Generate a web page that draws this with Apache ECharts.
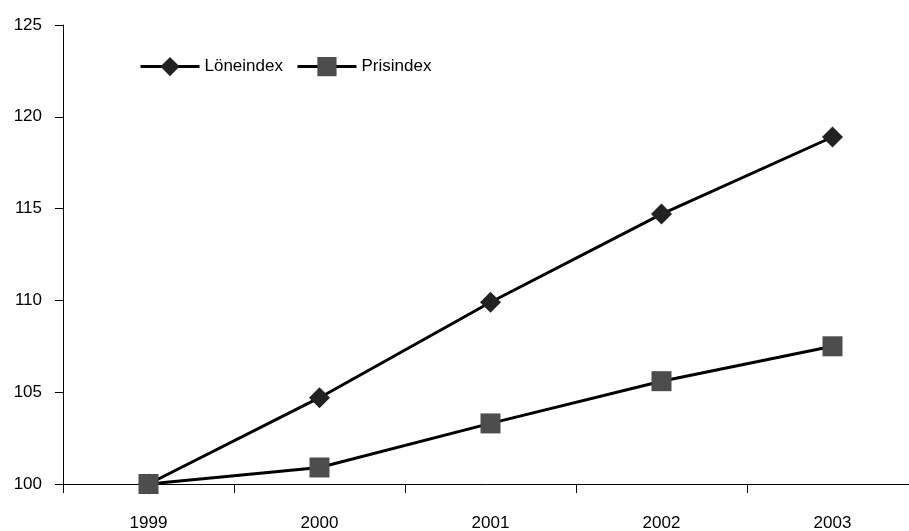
<!DOCTYPE html>
<html><head><meta charset="utf-8">
<script src="https://cdn.jsdelivr.net/npm/echarts@6/dist/echarts.min.js"></script>
<style>html,body{margin:0;padding:0;background:#fff}#c{width:909px;height:531px}</style>
</head><body><div id="c"></div>
<script>
const categories = ['1999','2000','2001','2002','2003'];
const loneindex = [100, 104.7, 109.9, 114.7, 118.9];
const prisindex = [100, 100.9, 103.3, 105.6, 107.5];
const chart = echarts.init(document.getElementById('c'));
const font = 'Liberation Sans, Arial, sans-serif';
chart.setOption({
  animation: false,
  backgroundColor: '#fff',
  grid: {left: 63, width: 855, top: 25, bottom: 47, containLabel: false, outerBoundsMode: 'none'},
  legend: {
    left: 134, top: 52, itemWidth: 59, itemHeight: 24, itemGap: 13,
    lineStyle: {width: 3, color: '#000'},
    textStyle: {fontFamily: font, fontSize: 17, color: '#000'},
    data: ['Löneindex', 'Prisindex']
  },
  xAxis: {
    type: 'category', data: categories, boundaryGap: true,
    axisLine: {lineStyle: {color: '#000', width: 1}},
    axisTick: {show: true, length: 9, lineStyle: {color: '#000'}},
    axisLabel: {fontFamily: font, fontSize: 17, color: '#000', margin: 31}
  },
  yAxis: {
    type: 'value', min: 100, max: 125, interval: 5,
    axisLine: {show: true, lineStyle: {color: '#000', width: 1}},
    axisTick: {show: true, length: 8, lineStyle: {color: '#000'}},
    splitLine: {show: false},
    axisLabel: {fontFamily: font, fontSize: 17, color: '#000', margin: 21}
  },
  series: [
    {name: 'Löneindex', type: 'line', data: loneindex, symbol: 'diamond', symbolSize: [21, 21],
     lineStyle: {color: '#000', width: 3}, itemStyle: {color: '#222'}},
    {name: 'Prisindex', type: 'line', data: prisindex, symbol: 'rect', symbolSize: 20,
     lineStyle: {color: '#000', width: 3}, itemStyle: {color: '#4d4d4d'}}
  ]
});
</script></body></html>
